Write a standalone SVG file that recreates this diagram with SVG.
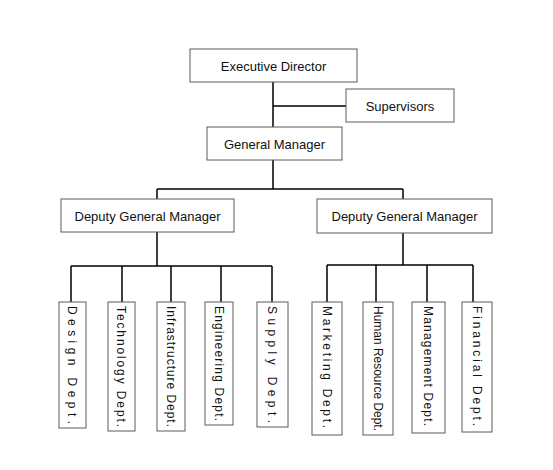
<svg xmlns="http://www.w3.org/2000/svg" width="553" height="470" viewBox="0 0 553 470">
<style>
.box{fill:#fff;stroke:#5a5a5a;stroke-width:1}
.t{font-family:"Liberation Sans",Arial,sans-serif;font-size:13px;fill:#111;text-anchor:middle;dominant-baseline:central}
.v{font-family:"Liberation Sans",Arial,sans-serif;font-size:12px;fill:#111}
.c{fill:none;stroke:#000;stroke-width:1.5}
</style>
<rect width="553" height="470" fill="#fff"/>
<g id="connectors">
<path class="c" d="M273 82V127M273 106H346M273 160V189M157 189H403M157 189V199M403 189V199"/>
<path class="c" d="M157 232V266M71 266H272M71 266V302M122 266V302M171 266V302M221 266V302M272 266V302"/>
<path class="c" d="M403 233V265M327 265H473M327 265V302M376 265V302M427 265V302M473 265V302"/>
</g>
<g id="executive-director"><rect class="box" x="190" y="49" width="167" height="33"/><text class="t" x="273.5" y="66">Executive Director</text></g>
<g id="supervisors"><rect class="box" x="346" y="89" width="108" height="33"/><text class="t" x="400" y="106">Supervisors</text></g>
<g id="general-manager"><rect class="box" x="207" y="127" width="135" height="33"/><text class="t" x="274.5" y="144">General Manager</text></g>
<g id="deputy-left"><rect class="box" x="61" y="199" width="173" height="33"/><text class="t" x="147.5" y="216">Deputy General Manager</text></g>
<g id="deputy-right"><rect class="box" x="317" y="199" width="175" height="34"/><text class="t" x="404.5" y="216.5">Deputy General Manager</text></g>
<g id="design"><rect class="box" x="59" y="302" width="27" height="126"/><text class="v" transform="translate(72.5,306) rotate(90)" x="0" y="4.2" textLength="118" lengthAdjust="spacing">Design Dept.</text></g>
<g id="technology"><rect class="box" x="108" y="302" width="27" height="129"/><text class="v" transform="translate(121.5,306) rotate(90)" x="0" y="4.2" textLength="121" lengthAdjust="spacing">Technology Dept.</text></g>
<g id="infrastructure"><rect class="box" x="157" y="302" width="28" height="129"/><text class="v" transform="translate(171,306) rotate(90)" x="0" y="4.2" textLength="121" lengthAdjust="spacing">Infrastructure Dept.</text></g>
<g id="engineering"><rect class="box" x="205" y="302" width="28" height="123"/><text class="v" transform="translate(219,306) rotate(90)" x="0" y="4.2" textLength="115" lengthAdjust="spacing">Engineering Dept.</text></g>
<g id="supply"><rect class="box" x="257" y="302" width="31" height="125"/><text class="v" transform="translate(272.5,306) rotate(90)" x="0" y="4.2" textLength="117" lengthAdjust="spacing">Supply Dept.</text></g>
<g id="marketing"><rect class="box" x="312" y="302" width="30" height="133"/><text class="v" transform="translate(327,306) rotate(90)" x="0" y="4.2" textLength="122" lengthAdjust="spacing">Marketing Dept.</text></g>
<g id="human-resource"><rect class="box" x="363" y="302" width="30" height="133"/><text class="v" transform="translate(378,306) rotate(90)" x="0" y="4.2" textLength="125" lengthAdjust="spacingAndGlyphs">Human Resource Dept.</text></g>
<g id="management"><rect class="box" x="412" y="302" width="33" height="131"/><text class="v" transform="translate(428.5,306) rotate(90)" x="0" y="4.2" textLength="120" lengthAdjust="spacing">Management Dept.</text></g>
<g id="financial"><rect class="box" x="462" y="302" width="30" height="130"/><text class="v" transform="translate(477,306) rotate(90)" x="0" y="4.2" textLength="120" lengthAdjust="spacing">Financial Dept.</text></g>
</svg>
